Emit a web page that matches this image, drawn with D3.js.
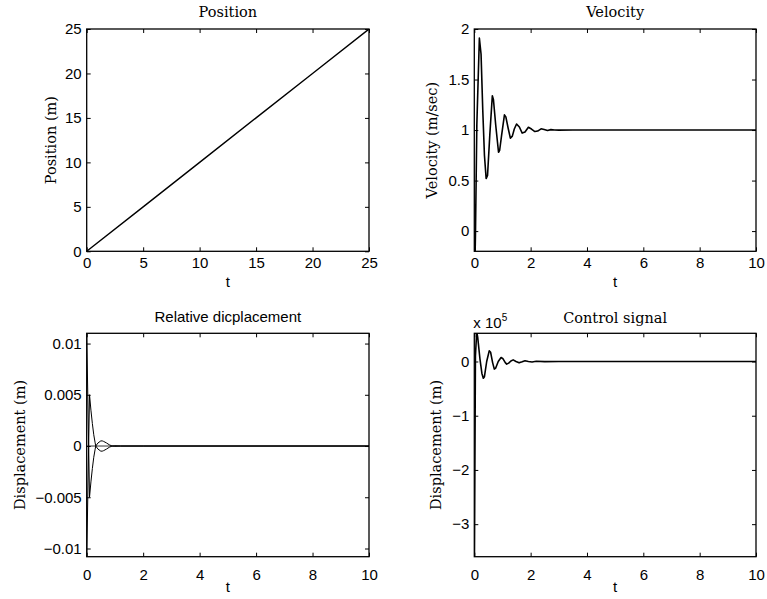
<!DOCTYPE html>
<html><head><meta charset="utf-8">
<script src="https://cdn.jsdelivr.net/npm/d3@7"></script>
<style>body{margin:0;background:#fff} svg{display:block}</style>
</head><body><svg id="c" width="767" height="599"></svg>
<script>
// ---------- data ----------
const posT = [0, 5, 10, 15, 20, 25];
const posV = [0, 5, 10, 15, 20, 25];

const velT = [0, 0.02, 0.04, 0.09, 0.18, 0.24, 0.3, 0.36, 0.42, 0.47, 0.55, 0.64, 0.68, 0.76, 0.86, 0.9, 0.97, 1.07, 1.12, 1.2, 1.28, 1.35, 1.42, 1.5, 1.6, 1.7, 1.8, 1.92, 2.03, 2.15, 2.25, 2.37, 2.48, 2.6, 2.72, 2.85, 3.0, 3.5, 4, 5, 6, 7, 8, 9, 10];
const velV = [0, -0.35, -0.05, 1.05, 1.91, 1.75, 1.2, 0.75, 0.52, 0.55, 0.95, 1.34, 1.3, 1.05, 0.78, 0.8, 0.95, 1.15, 1.13, 1.02, 0.92, 0.94, 1.01, 1.06, 1.03, 0.97, 0.98, 1.027, 1.01, 0.985, 0.99, 1.012, 1.005, 0.995, 1.004, 1.001, 0.999, 1, 1, 1, 1, 1, 1, 1, 1];

const dispT  = [0, 0.1, 0.15, 0.2, 0.25, 0.3, 0.32, 0.4, 0.5, 0.55, 0.6, 0.7, 0.8, 0.9, 1.0, 1.2, 2, 10];
const dispA  = [-0.0112, 0.005, 0.0035, 0.0022, 0.0011, 0.0003, 0, -0.0003, -0.0005, -0.0005, -0.00045, -0.0003, -0.00012, 0, 0.00003, 0, 0, 0];
const dispB  = [0.0112, -0.005, -0.0035, -0.0022, -0.0011, -0.0003, 0, 0.0003, 0.0005, 0.0005, 0.00045, 0.0003, 0.00012, 0, -0.00003, 0, 0, 0];
const zeroT  = [0, 10];
const zeroV  = [0, 0];

const ctrlT = [0, 0.04, 0.085, 0.12, 0.2, 0.27, 0.32, 0.36, 0.44, 0.53, 0.58, 0.65, 0.71, 0.76, 0.85, 0.95, 1.02, 1.1, 1.15, 1.22, 1.3, 1.38, 1.48, 1.59, 1.7, 1.8, 1.92, 2.05, 2.2, 2.5, 3, 4, 5, 6, 7, 8, 9, 10];
const ctrlV = [-4.2, 0.1, 0.55, 0.45, 0.05, -0.22, -0.31, -0.28, 0.0, 0.197, 0.17, -0.02, -0.14, -0.12, 0.0, 0.074, 0.05, -0.02, -0.048, -0.03, 0.01, 0.03, 0.0, -0.025, -0.005, 0.015, 0.0, -0.008, 0.004, -0.002, 0, 0, 0, 0, 0, 0, 0, 0];

const xTicksPos = [0, 5, 10, 15, 20, 25];
const xTicksT = [0, 2, 4, 6, 8, 10];
const yTicksPos = [0, 5, 10, 15, 20, 25];
const yTicksVel = [0, 0.5, 1, 1.5, 2];
const yLabelsVel = ["0", "0.5", "1", "1.5", "2"];
const yTicksDisp = [-0.01, -0.005, 0, 0.005, 0.01];
const yLabelsDisp = ["\u22120.01", "\u22120.005", "0", "0.005", "0.01"];
const yTicksCtrl = [-3, -2, -1, 0];
const yLabelsCtrl = ["\u22123", "\u22122", "\u22121", "0"];

const titles = ["Position", "Velocity", "Relative dicplacement", "Control signal"];
const yTitles = ["Position (m)", "Velocity (m/sec)", "Displacement (m)", "Displacement (m)"];

// ---------- drawing ----------
const svg = d3.select('#c');
const SERIF = "'DejaVu Serif', serif";
const SANS = "'Liberation Sans', Arial, sans-serif";

const panels = [
  {id:0, l:86.7, r:369, t:29, b:251.3, xd:[0,25], yd:[0,25], xt:xTicksPos, yt:yTicksPos, yl:yTicksPos.map(String),
   series:[{t:posT, v:posV, w:1.4}], title:titles[0], titleFont:SERIF, titleY:16.7, yTitle:yTitles[0], yTitleX:56, xlabPad:6.4, xTitleY:287},
  {id:1, l:474.3, r:756, t:29, b:251.3, xd:[0,10], yd:[-0.2,2], xt:xTicksT, yt:yTicksVel, yl:yLabelsVel,
   series:[{t:velT, v:velV, w:1.6}], title:titles[1], titleFont:SERIF, titleY:16.5, yTitle:yTitles[1], yTitleX:437, xlabPad:6.4, xTitleY:287},
  {id:2, l:86.7, r:369, t:333.3, b:556.7, xd:[0,10], yd:[-0.0108,0.011], xt:xTicksT, yt:yTicksDisp, yl:yLabelsDisp,
   series:[
     {t:zeroT, v:zeroV, w:0.8},
     {t:dispT, v:dispA, w:1.0},
     {t:dispT, v:dispB, w:1.0}
   ], title:titles[2], titleFont:SANS, titleY:322.3, yTitle:yTitles[2], yTitleX:25, xlabPad:12.3, xTitleY:591.5},
  {id:3, l:474.3, r:756, t:333.3, b:556.7, xd:[0,10], yd:[-3.6,0.52], xt:xTicksT, yt:yTicksCtrl, yl:yLabelsCtrl,
   series:[{t:ctrlT, v:ctrlV, w:1.6}], title:titles[3], titleFont:SERIF, titleY:323.3, yTitle:yTitles[3], yTitleX:441, xlabPad:12.3, xTitleY:591.5}
];

panels.forEach(p => {
  const x = d3.scaleLinear().domain(p.xd).range([p.l, p.r]);
  const y = d3.scaleLinear().domain(p.yd).range([p.b, p.t]);
  const g = svg.append('g');

  g.append('clipPath').attr('id', 'clip' + p.id)
    .append('rect').attr('x', p.l).attr('y', p.t).attr('width', p.r - p.l).attr('height', p.b - p.t);

  const line = d3.line().x(d => x(d[0])).y(d => y(d[1]));
  const plot = g.append('g').attr('clip-path', `url(#clip${p.id})`);
  p.series.forEach(s => {
    plot.append('path').datum(s.t.map((tt, i) => [tt, s.v[i]]))
      .attr('d', line).attr('fill', 'none').attr('stroke', '#000')
      .attr('stroke-width', s.w).attr('stroke-linejoin', 'round');
  });

  // axes with inward ticks
  g.append('g').attr('transform', `translate(0,${p.b})`)
    .call(d3.axisBottom(x).tickValues(p.xt).tickFormat(d3.format('d')).tickSizeInner(-4).tickSizeOuter(0).tickPadding(p.xlabPad));
  g.append('g').attr('transform', `translate(0,${p.t})`)
    .call(d3.axisTop(x).tickValues(p.xt).tickFormat('').tickSizeInner(-4).tickSizeOuter(0));
  g.append('g').attr('transform', `translate(${p.l},0)`)
    .call(d3.axisLeft(y).tickValues(p.yt).tickFormat((d, i) => p.yl[i]).tickSizeInner(-4).tickSizeOuter(0).tickPadding(5));
  g.append('g').attr('transform', `translate(${p.r},0)`)
    .call(d3.axisRight(y).tickValues(p.yt).tickFormat('').tickSizeInner(-4).tickSizeOuter(0));
  g.selectAll('.domain').remove();
  g.selectAll('.tick line').attr('stroke', '#000').attr('stroke-width', 1);
  g.selectAll('.tick text').attr('font-family', SANS).attr('font-size', 15).attr('fill', '#000');

  g.append('rect').attr('x', p.l).attr('y', p.t).attr('width', p.r - p.l).attr('height', p.b - p.t)
    .attr('fill', 'none').attr('stroke', '#000').attr('stroke-width', 1.3);

  // title
  g.append('text').attr('x', (p.l + p.r) / 2).attr('y', p.titleY).attr('text-anchor', 'middle')
    .attr('font-family', p.titleFont).attr('font-size', p.titleFont === SANS ? 15 : 14.5).text(p.title);
  // x label
  g.append('text').attr('x', (p.l + p.r) / 2).attr('y', p.xTitleY).attr('text-anchor', 'middle')
    .attr('font-family', SANS).attr('font-size', 15).text('t');
  // y label
  g.append('text').attr('transform', `translate(${p.yTitleX},${(p.t + p.b) / 2}) rotate(-90)`)
    .attr('text-anchor', 'middle').attr('font-family', SERIF).attr('font-size', 14.5).text(p.yTitle);
});

// exponent label on control signal panel
const ex = svg.append('text').attr('x', 473.3).attr('y', 328.3)
  .attr('font-family', SANS).attr('font-size', 15).text('x 10');
ex.append('tspan').attr('font-size', 10).attr('dy', -7).text('5');
</script>
</body></html>
